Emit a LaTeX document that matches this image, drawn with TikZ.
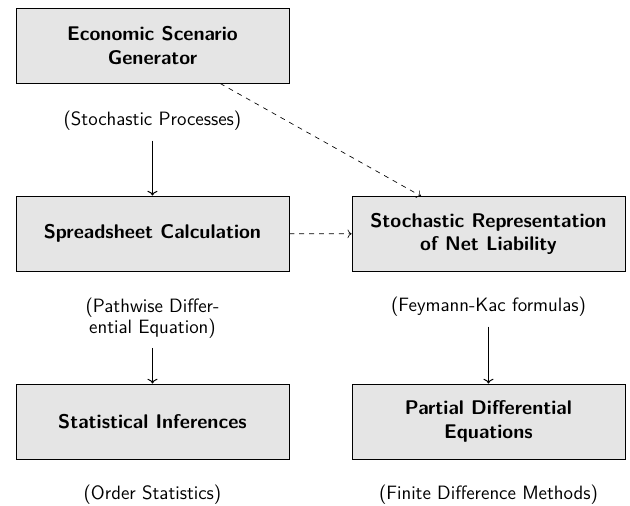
\documentclass[tikz,border=0pt]{standalone}
\usepackage{tikz}
\usetikzlibrary{arrows.meta,positioning}
\tikzset{
    semithick,
    box/.style = {rectangle, draw, fill=gray!20, minimum width=5.815cm, minimum height=1.6cm, align=center, font=\large\sffamily\bfseries, thin},
    note/.style = {font=\fontsize{11.7}{12.4}\selectfont\sffamily, align=center},
    flow/.style = {->, semithick, shorten <=2.5pt},
    link/.style = {->, dashed, thin}
}

\begin{document}
\begin{tikzpicture}
      \useasboundingbox (0,0) rectangle (13.42,-10.76);

      \node[box] (esg) at (3.248, -0.969) {Economic Scenario\\Generator};
      \node[note] (stoch) at (3.248, -2.577) {(Stochastic Processes)};

      \node[box] (sheet) at (3.248, -4.974) {Spreadsheet Calculation};
      \node[note] (pathwise) at (3.248, -6.773) {(Pathwise Differ-\\ential Equation)};

      \node[box] (repr) at (10.405, -4.984) {Stochastic Representation\\of Net Liability};
      \node[note] (fk) at (10.405, -6.539) {(Feymann-Kac formulas)};

      \node[box] (infer) at (3.248, -8.978) {Statistical Inferences};
      \node[note] (order) at (3.248, -10.544) {(Order Statistics)};

      \node[box] (pde) at (10.405, -8.978) {Partial Differential\\Equations};
      \node[note] (fdm) at (10.405, -10.544) {(Finite Difference Methods)};

      \draw[flow] (stoch) -- (sheet);
      \draw[flow] (pathwise) -- (infer);
      \draw[flow] (fk) -- (pde);

      \draw[link] (esg) -- (repr);
      \draw[link] (sheet) -- (repr);
\end{tikzpicture}
\end{document}
